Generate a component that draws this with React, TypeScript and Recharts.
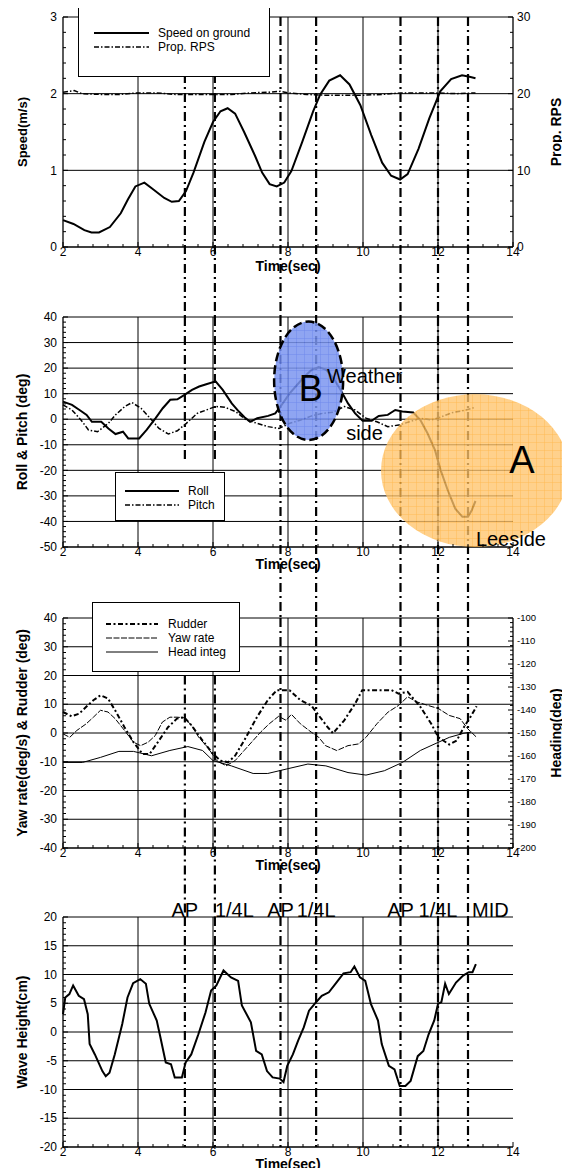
import React from 'react';
import {
  LineChart,
  Line,
  XAxis,
  YAxis,
  ReferenceLine,
  ReferenceArea,
  ReferenceDot,
  Legend,
  Label,
} from 'recharts';

/* Four stacked time histories of a ship model run in waves, tied together by
 * the dash-dot event lines (AP / 1/4L / MID) that run through every panel. */

const FONT = '"Liberation Sans", Arial, Helvetica, sans-serif';
const CHART_W = 562;
const PLOT_H = 230;
const LEFT_W = 55;
const RIGHT_W = 57;

// ---- shared time axis -------------------------------------------------------
const TIME_DOMAIN: [number, number] = [2, 14];
const TIME_LABELS = [2, 4, 6, 8, 10, 12, 14];
const TIME_GRID = [4, 6, 8, 10, 12];

// ---- event lines ------------------------------------------------------------
const MARK_T = [5.25, 6.05, 7.8, 8.75, 11.0, 12.0, 12.8];
const MARK_LABEL = ['AP', '1/4L', 'AP', '1/4L', 'AP', '1/4L', 'MID'];
// the first two are interrupted between the roll legend and the yaw panel
const MARK_BROKEN = [true, true, false, false, false, false, false];

// ---- panel 1: speed / RPS ---------------------------------------------------
const SPEED_DOMAIN: [number, number] = [0, 3];
const SPEED_LABELS = [0, 1, 2, 3];
const SPEED_GRID = [1, 2, 3];
const RPS_DOMAIN: [number, number] = [0, 30];
const RPS_LABELS = [0, 10, 20, 30];

const SPEED: [number, number][] = [
  [2.0, 0.35], [2.28, 0.3], [2.57, 0.22], [2.76, 0.19], [2.96, 0.19], [3.25, 0.26],
  [3.54, 0.44], [3.73, 0.62], [3.93, 0.79], [4.17, 0.84], [4.41, 0.75], [4.7, 0.64],
  [4.9, 0.59], [5.09, 0.6], [5.28, 0.73], [5.48, 0.97], [5.77, 1.37], [6.0, 1.63],
  [6.2, 1.77], [6.39, 1.81], [6.59, 1.74], [6.83, 1.5], [7.12, 1.19], [7.31, 0.97],
  [7.51, 0.82], [7.7, 0.79], [7.9, 0.84], [8.09, 0.99], [8.38, 1.37], [8.67, 1.77],
  [8.86, 1.99], [9.1, 2.17], [9.39, 2.24], [9.64, 2.12], [9.93, 1.85], [10.22, 1.46],
  [10.51, 1.1], [10.75, 0.93], [10.99, 0.88], [11.19, 0.95], [11.48, 1.28], [11.77, 1.68],
  [12.06, 2.03], [12.35, 2.19], [12.64, 2.24], [12.84, 2.22], [13.0, 2.2],
];

const RPS: [number, number][] = [
  [2.0, 20.2], [2.3, 20.4], [2.5, 20.0], [3.0, 19.9], [3.5, 19.9], [4.0, 20.1],
  [4.5, 20.1], [5.0, 19.9], [5.5, 19.9], [6.0, 19.9], [6.5, 19.9], [7.0, 20.1],
  [7.5, 20.2], [7.8, 20.3], [8.0, 20.1], [8.5, 19.9], [9.0, 19.8], [9.5, 19.8],
  [10.0, 19.8], [10.5, 19.9], [11.0, 20.1], [11.5, 20.1], [12.0, 20.1], [12.5, 20.0],
  [13.0, 20.1],
];

// ---- panel 2: roll / pitch --------------------------------------------------
const ROLL_DOMAIN: [number, number] = [-50, 40];
const ROLL_LABELS = [-50, -40, -30, -20, -10, 0, 10, 20, 30, 40];
const ROLL_GRID = [-40, -30, -20, -10, 0, 10, 20, 30, 40];

const ROLL: [number, number][] = [
  [2.0, 6.9], [2.24, 5.6], [2.44, 3.6], [2.63, 1.7], [2.77, -1], [3.02, -1],
  [3.21, -3.6], [3.4, -5.8], [3.6, -4.9], [3.74, -7.5], [4.03, -7.5], [4.23, -4.2],
  [4.47, 0.4], [4.66, 4.3], [4.86, 7.6], [5.05, 7.8], [5.24, 9.5], [5.44, 11.5],
  [5.63, 12.8], [5.82, 13.7], [6.07, 14.8], [6.26, 11.5], [6.5, 6.2], [6.69, 3.0],
  [6.84, 0.8], [6.99, -1], [7.18, 0.4], [7.47, 1.3], [7.66, 2.3], [7.86, 6.2],
  [8.05, 10.2], [8.24, 13.4], [8.44, 16.7], [8.63, 19.3], [8.82, 20.4], [9.02, 19.3],
  [9.21, 16.1], [9.4, 11.5], [9.6, 6.2], [9.79, 2.3], [9.99, -0.6], [10.23, -0.6],
  [10.42, 1.3], [10.66, 1.7], [10.86, 3.6], [11.05, 3.0], [11.34, 2.6], [11.53, -0.3],
  [11.72, -5.5], [11.92, -12.1], [12.07, -19.9], [12.26, -27.8], [12.46, -35],
  [12.65, -38.2], [12.8, -38.2], [12.9, -35.6], [13.0, -32],
];

const PITCH: [number, number][] = [
  [2.0, 5.6], [2.24, 3.6], [2.48, -0.3], [2.68, -4.2], [2.92, -4.9], [3.21, -1.6],
  [3.4, 1.7], [3.65, 5], [3.84, 6.5], [4.08, 4.3], [4.32, 0.4], [4.56, -3.6],
  [4.81, -5.8], [5.05, -4.5], [5.29, -1.6], [5.58, 2.3], [5.82, 3.6], [6.07, 5],
  [6.31, 4.7], [6.6, 3], [6.89, -0.3], [7.18, -1.6], [7.47, -2.9], [7.76, -3.6],
  [8.05, -1.6], [8.34, -0.3], [8.63, 1.3], [8.92, 2.3], [9.21, 2.7], [9.5, 5],
  [9.79, 3.6], [10.08, 0.4], [10.37, -1], [10.66, -2.9], [10.95, -2.3], [11.24, -1],
  [11.53, 0.4], [11.82, -0.3], [12.1, 1], [12.39, 2.6], [12.69, 3.4], [13.0, 4.7],
];

// highlighted regions: [t0, t1, v0, v1]
const ZONE_B = [7.63, 9.47, -8.1, 38.2];
const ZONE_A = [10.48, 15.49, -50, 9.8];

const NOTE_TEXT = ['B', 'Weather', 'side', 'A', 'Leeside'];
const NOTE_T = [8.61, 9.04, 9.55, 14.24, 13.01];
const NOTE_V = [12.2, 14.2, -8.3, -16, -49.5];
const NOTE_SIZE = [36, 20, 20, 38, 20];
const NOTE_ANCHOR = ['middle', 'start', 'start', 'middle', 'start'];
const NOTE_BASE = ['central', 'auto', 'auto', 'central', 'auto'];

// ---- panel 3: rudder / yaw rate / heading ----------------------------------
const YAW_DOMAIN: [number, number] = [-40, 40];
const YAW_LABELS = [-40, -30, -20, -10, 0, 10, 20, 30, 40];
const YAW_GRID = [-30, -20, -10, 0, 10, 20, 30, 40];
const HEAD_DOMAIN: [number, number] = [-200, -100];
const HEAD_LABELS = [-200, -190, -180, -170, -160, -150, -140, -130, -120, -110, -100];

const RUDDER: [number, number][] = [
  [2.0, 7.3], [2.23, 5.8], [2.43, 6.7], [2.62, 9.1], [2.81, 11.4], [3.0, 13.1],
  [3.2, 12], [3.39, 7.9], [3.64, 2], [3.88, -3.2], [4.12, -7.3], [4.31, -7.3],
  [4.56, -2.6], [4.8, 2], [5.04, 5], [5.23, 5.5], [5.43, 2.6], [5.72, -2.6],
  [6.0, -7.3], [6.2, -9.6], [6.4, -10.2], [6.59, -7.9], [6.88, -1.5], [7.17, 5.5],
  [7.46, 11.4], [7.7, 14.9], [8.04, 14.9], [8.33, 11.4], [8.62, 9.6], [8.82, 6.1],
  [9.06, 2], [9.2, -0.1], [9.5, 4.4], [9.79, 10.2], [9.98, 14.9], [10.37, 14.9],
  [10.76, 14.9], [10.95, 13.7], [11.19, 14.3], [11.53, 9.1], [11.82, 3.2], [12.01, -1.5],
  [12.3, -4], [12.5, -2.6], [12.69, 2], [12.89, 6.1], [13.03, 9.3],
];

const YAW: [number, number][] = [
  [2.0, -0.3], [2.18, -1.5], [2.37, 0.9], [2.62, 3.2], [2.81, 5.5], [3.0, 7.9],
  [3.2, 7.3], [3.39, 5], [3.64, 0.9], [3.88, -3.2], [4.07, -4.4], [4.27, -3.2],
  [4.46, -0.9], [4.65, 3.8], [4.85, 5.5], [5.04, 5.5], [5.23, 5.3], [5.43, 2.6],
  [5.62, -1.5], [5.86, -5], [6.1, -9.6], [6.35, -11.4], [6.59, -9.6], [6.83, -6.1],
  [7.07, -2.6], [7.27, 0.3], [7.5, 3.2], [7.75, 5.8], [7.95, 4.4], [8.09, 6.5],
  [8.33, 3.2], [8.62, 0.3], [8.82, -1.5], [9.0, -4.4], [9.3, -6.1], [9.6, -4.4],
  [9.88, -3.8], [10.08, -1.5], [10.37, 3.2], [10.67, 7.3], [10.95, 9.6], [11.19, 12.6],
  [11.44, 10.8], [11.73, 9.6], [12.01, 8.5], [12.3, 6.1], [12.59, 5], [12.79, 1.5],
  [13.03, -1.5],
];

const HEADING: [number, number][] = [
  [2.0, -162.8], [2.52, -162.8], [3.0, -160.6], [3.49, -158], [3.88, -158],
  [4.36, -159.9], [4.85, -157.6], [5.33, -155.9], [5.72, -157.6], [6.0, -162],
  [6.49, -164.3], [7.07, -167.6], [7.46, -167.6], [7.95, -165.7], [8.53, -163.5],
  [9.01, -164.3], [9.6, -167.2], [10.08, -168.3], [10.57, -166.4], [11.05, -162.8],
  [11.53, -157.6], [11.92, -154.7], [12.3, -151.9], [12.69, -150.1], [12.89, -149.6],
];

// ---- panel 4: wave height ---------------------------------------------------
const WAVE_DOMAIN: [number, number] = [-20, 20];
const WAVE_LABELS = [-20, -15, -10, -5, 0, 5, 10, 15, 20];
const WAVE_GRID = [-15, -10, -5, 0, 5, 10, 15, 20];

const WAVE: [number, number][] = [
  [2.0, 3.1], [2.06, 6], [2.17, 6.6], [2.27, 8.1], [2.42, 6.3], [2.56, 5.7],
  [2.66, 3.1], [2.71, -2.1], [2.85, -3.9], [3.05, -6.8], [3.14, -7.7], [3.24, -7.1],
  [3.38, -3.9], [3.58, 1.4], [3.72, 6], [3.87, 8.5], [4.06, 9.2], [4.21, 8.4],
  [4.3, 4.9], [4.5, 2], [4.59, -0.7], [4.74, -5.3], [4.88, -5.6], [4.98, -7.9],
  [5.17, -7.9], [5.27, -5.3], [5.42, -3.9], [5.61, -0.4], [5.8, 3.4], [5.95, 7.2],
  [6.09, 8.1], [6.28, 10.7], [6.48, 9.5], [6.67, 8.9], [6.77, 4.6], [7.01, 1.7],
  [7.15, -3.3], [7.3, -3.9], [7.44, -6.8], [7.59, -7.9], [7.78, -8.1], [7.88, -8.7],
  [7.98, -5.9], [8.13, -3.9], [8.27, -1.5], [8.42, 0.8], [8.56, 3.7], [8.71, 4.9],
  [8.9, 6.3], [9.09, 6.9], [9.29, 8.6], [9.48, 10.2], [9.67, 10.4], [9.77, 11.4],
  [9.92, 9.5], [10.06, 8.9], [10.21, 4.9], [10.4, 2], [10.5, -2.1], [10.69, -5.9],
  [10.84, -6.5], [10.98, -9.4], [11.13, -9.4], [11.27, -8.5], [11.46, -4.2],
  [11.61, -3.3], [11.75, -0.4], [11.9, 2], [12.0, 4.9], [12.09, 5.2], [12.19, 8.4],
  [12.29, 6.6], [12.48, 8.6], [12.67, 9.8], [12.82, 10.4], [12.92, 10.4], [13.01, 11.8],
];

// ---- helpers ----------------------------------------------------------------
const pts = (a: [number, number][]) => a.map(([t, v]) => ({ t, v }));

function steps(a: number, b: number, s: number): number[] {
  const out: number[] = [];
  for (let k = 0; a + k * s <= b + 1e-9; k++) out.push(+(a + k * s).toFixed(3));
  return out;
}

// how far (in data units) the event lines must run below a plot to reach the next one
const reach = (d: [number, number], gapPx: number) => d[0] - (gapPx * (d[1] - d[0])) / PLOT_H;

const LINE_STYLE: Record<string, { w: number; dash?: string }> = {
  'Speed on ground': { w: 2 },
  'Prop. RPS': { w: 1.5, dash: '5 2 1.5 2' },
  Roll: { w: 2 },
  Pitch: { w: 1.5, dash: '5 2 1.5 2' },
  Rudder: { w: 2, dash: '5 2.5 2 2.5' },
  'Yaw rate': { w: 1, dash: '6 1.5' },
  'Head integ': { w: 1 },
  Wave: { w: 2 },
};

const leftTick = (labels: number[], fs = 12) => (p: any) => {
  const v = p.payload.value;
  const major = labels.includes(v);
  return (
    <g>
      <line x1={p.x} x2={p.x + (major ? 5 : 3)} y1={p.y} y2={p.y} stroke="#000" />
      {major && (
        <text x={p.x - 6} y={p.y} dy="0.35em" textAnchor="end" fontSize={fs} fontFamily={FONT} fill="#000">
          {v}
        </text>
      )}
    </g>
  );
};

const rightTick = (labels: number[], fs = 12) => (p: any) => {
  const v = p.payload.value;
  const major = labels.includes(v);
  return (
    <g>
      <line x1={p.x} x2={p.x - (major ? 5 : 3)} y1={p.y} y2={p.y} stroke="#000" />
      {major && (
        <text x={p.x + 4} y={p.y} dy="0.35em" textAnchor="start" fontSize={fs} fontFamily={FONT} fill="#000">
          {v}
        </text>
      )}
    </g>
  );
};

const bottomTick = (p: any) => {
  const v = p.payload.value;
  const major = TIME_LABELS.includes(v);
  return (
    <g>
      <line x1={p.x} x2={p.x} y1={p.y} y2={p.y - (major ? 5 : 3)} stroke="#000" />
      {major && (
        <text x={p.x} y={p.y} dy="0.71em" textAnchor="middle" fontSize={12} fontFamily={FONT} fill="#000">
          {v}
        </text>
      )}
    </g>
  );
};

const yTitle = (text: string, offset: number, fs = 14) => (p: any) => {
  const vb = p.viewBox;
  const x = vb.x + offset;
  const y = vb.y + vb.height / 2;
  return (
    <text
      x={x}
      y={y}
      transform={`rotate(-90 ${x} ${y})`}
      textAnchor="middle"
      dominantBaseline="central"
      fontSize={fs}
      fontWeight="bold"
      fontFamily={FONT}
      fill="#000"
    >
      {text}
    </text>
  );
};

const xTitle = (dy: number) => (p: any) => {
  const vb = p.viewBox;
  return (
    <text
      x={vb.x + vb.width / 2}
      y={vb.y + dy}
      textAnchor="middle"
      dominantBaseline="central"
      fontSize={14}
      fontWeight="bold"
      fontFamily={FONT}
      fill="#000"
    >
      Time(sec)
    </text>
  );
};

type LegendSpec = { left: number; top: number; w: number; h: number; row0: number; gap: number; x0: number; x1: number; tx: number };

function legendContent(spec: LegendSpec, names: string[]) {
  return () => (
    <div
      style={{
        position: 'relative',
        width: spec.w,
        height: spec.h,
        border: '1.5px solid #000',
        background: '#fff',
        boxSizing: 'border-box',
        fontFamily: FONT,
        fontSize: 12,
        color: '#000',
      }}
    >
      {names.map((n, i) => (
        <React.Fragment key={n}>
          <svg
            style={{ position: 'absolute', left: spec.x0, top: spec.row0 + i * spec.gap - 3 }}
            width={spec.x1 - spec.x0}
            height={6}
          >
            <line
              x1={0}
              x2={spec.x1 - spec.x0}
              y1={3}
              y2={3}
              stroke="#000"
              strokeWidth={LINE_STYLE[n].w}
              strokeDasharray={LINE_STYLE[n].dash}
            />
          </svg>
          <span
            style={{
              position: 'absolute',
              left: spec.tx,
              top: spec.row0 + i * spec.gap - 8,
              lineHeight: '16px',
              whiteSpace: 'nowrap',
            }}
          >
            {n}
          </span>
        </React.Fragment>
      ))}
    </div>
  );
}

function chartLegend(spec: LegendSpec, names: string[]) {
  return (
    <Legend
      layout="horizontal"
      verticalAlign="middle"
      align="center"
      content={legendContent(spec, names)}
      wrapperStyle={{ left: spec.left, top: spec.top, width: spec.w, height: spec.h }}
    />
  );
}

function eventLines(top: number, bottom: number, brokenTop?: number, brokenBottom?: number) {
  return MARK_T.map((t, i) => (
    <ReferenceLine
      key={`ev${i}`}
      segment={[
        { x: t, y: MARK_BROKEN[i] && brokenTop !== undefined ? brokenTop : top },
        { x: t, y: MARK_BROKEN[i] && brokenBottom !== undefined ? brokenBottom : bottom },
      ]}
      stroke="#000"
      strokeWidth={2.2}
      strokeDasharray="9 4 2 4"
      ifOverflow="visible"
    />
  ));
}

function gridLines(values: number[]) {
  return [
    ...values.map((v) => <ReferenceLine key={`gy${v}`} y={v} stroke="#000" strokeWidth={1} />),
    ...TIME_GRID.map((t) => <ReferenceLine key={`gx${t}`} x={t} stroke="#000" strokeWidth={1} />),
  ];
}

function seriesLine(name: string, data: [number, number][], yAxisId?: string) {
  const s = LINE_STYLE[name];
  return (
    <Line
      key={name}
      name={name}
      data={pts(data)}
      dataKey="v"
      yAxisId={yAxisId ?? 0}
      type="linear"
      stroke="#000"
      strokeWidth={s.w}
      strokeDasharray={s.dash}
      dot={false}
      activeDot={false}
      isAnimationActive={false}
    />
  );
}

const ellipseShape = (id: string, base: string, lattice: string, opacity: number, border: boolean) => (p: any) => {
  const { x, y, width, height } = p;
  return (
    <g>
      <defs>
        <pattern id={id} patternUnits="userSpaceOnUse" width={8} height={8}>
          <rect width={8} height={8} fill={base} />
          <path d="M 8 0 L 0 0 0 8" fill="none" stroke={lattice} strokeWidth={0.9} />
        </pattern>
      </defs>
      <ellipse
        cx={x + width / 2}
        cy={y + height / 2}
        rx={width / 2}
        ry={height / 2}
        fill={`url(#${id})`}
        fillOpacity={opacity}
        stroke={border ? '#000' : 'none'}
        strokeWidth={2.5}
        strokeDasharray="9 4"
      />
    </g>
  );
};

const textShape = (text: string, fs: number, anchor: string, baseline: string, dx = 0) => (p: any) => (
  <text
    x={p.cx + dx}
    y={p.cy}
    fontSize={fs}
    textAnchor={anchor as any}
    dominantBaseline={baseline as any}
    fontFamily={FONT}
    fill="#000"
  >
    {text}
  </text>
);

const xAxisEl = (height: number, dy: number) => (
  <XAxis
    dataKey="t"
    type="number"
    domain={TIME_DOMAIN}
    ticks={steps(2, 14, 0.4)}
    interval={0}
    tickSize={0}
    tickMargin={0}
    tickLine={false}
    tick={bottomTick}
    axisLine={{ stroke: '#000', strokeWidth: 1.3 }}
    height={height}
  >
    <Label content={xTitle(dy)} />
  </XAxis>
);

const leftAxisEl = (domain: [number, number], labels: number[], minor: number, title: string, fs = 14) => (
  <YAxis
    type="number"
    domain={domain}
    ticks={steps(domain[0], domain[1], minor)}
    interval={0}
    tickSize={0}
    tickMargin={0}
    tickLine={false}
    tick={leftTick(labels)}
    axisLine={{ stroke: '#000', strokeWidth: 1.3 }}
    width={LEFT_W}
  >
    <Label content={yTitle(title, 14, fs)} />
  </YAxis>
);

// gaps (px) between one plot's bottom edge and the next plot's top edge
const GAP_1 = 70;
const GAP_2 = 71;
const GAP_3 = 69;

export default function App() {
  return (
    <div style={{ width: CHART_W, fontFamily: FONT }}>
      <style>{'.recharts-surface{overflow:visible}.recharts-wrapper{overflow:visible}'}</style>

      {/* speed over ground / propeller RPS */}
      <LineChart width={CHART_W} height={290} margin={{ top: 9, right: 0, bottom: 21, left: 0 }}>
        {xAxisEl(30, 19)}
        {leftAxisEl(SPEED_DOMAIN, SPEED_LABELS, 0.2, 'Speed(m/s)', 13)}
        <YAxis
          yAxisId="rps"
          orientation="right"
          type="number"
          domain={RPS_DOMAIN}
          ticks={steps(0, 30, 2)}
          interval={0}
          tickSize={0}
          tickMargin={0}
          tickLine={false}
          tick={rightTick(RPS_LABELS)}
          axisLine={{ stroke: '#000', strokeWidth: 1.3 }}
          width={RIGHT_W}
        >
          <Label content={yTitle('Prop. RPS', 43, 14)} />
        </YAxis>
        {gridLines(SPEED_GRID)}
        {eventLines(SPEED_DOMAIN[1], reach(SPEED_DOMAIN, GAP_1))}
        {seriesLine('Speed on ground', SPEED)}
        {seriesLine('Prop. RPS', RPS, 'rps')}
        {chartLegend(
          { left: 70, top: -1, w: 192, h: 70, row0: 25, gap: 14, x0: 15, x1: 70, tx: 79 },
          ['Speed on ground', 'Prop. RPS'],
        )}
      </LineChart>

      {/* roll / pitch */}
      <LineChart width={CHART_W} height={300} margin={{ top: 19, right: RIGHT_W, bottom: 21, left: 0 }}>
        {xAxisEl(30, 17)}
        {leftAxisEl(ROLL_DOMAIN, ROLL_LABELS, 2, 'Roll & Pitch (deg)')}
        {gridLines(ROLL_GRID)}
        {eventLines(ROLL_DOMAIN[1], reach(ROLL_DOMAIN, GAP_2), undefined, -17)}
        {seriesLine('Roll', ROLL)}
        {seriesLine('Pitch', PITCH)}
        <ReferenceArea
          x1={ZONE_B[0]}
          x2={ZONE_B[1]}
          y1={ZONE_B[2]}
          y2={ZONE_B[3]}
          ifOverflow="visible"
          shape={ellipseShape('patB', '#7b95f0', '#5271e6', 0.85, true)}
          zIndex={500}
        />
        <ReferenceArea
          x1={ZONE_A[0]}
          x2={ZONE_A[1]}
          y1={ZONE_A[2]}
          y2={ZONE_A[3]}
          ifOverflow="visible"
          shape={ellipseShape('patA', '#ffc46b', '#ffa41f', 0.78, false)}
          zIndex={500}
        />
        {NOTE_TEXT.map((n, i) => (
          <ReferenceDot
            key={n}
            x={NOTE_T[i]}
            y={NOTE_V[i]}
            r={0}
            ifOverflow="visible"
            shape={textShape(n, NOTE_SIZE[i], NOTE_ANCHOR[i], NOTE_BASE[i])}
          />
        ))}
        {chartLegend(
          { left: 107, top: 174, w: 110, h: 49, row0: 18, gap: 14, x0: 9, x1: 63, tx: 72 },
          ['Roll', 'Pitch'],
        )}
      </LineChart>

      {/* rudder / yaw rate / heading */}
      <LineChart width={CHART_W} height={300} margin={{ top: 20, right: 0, bottom: 20, left: 0 }}>
        {xAxisEl(30, 17)}
        {leftAxisEl(YAW_DOMAIN, YAW_LABELS, 2, 'Yaw rate(deg/s) & Rudder (deg)')}
        <YAxis
          yAxisId="head"
          orientation="right"
          type="number"
          domain={HEAD_DOMAIN}
          ticks={steps(-200, -100, 2)}
          interval={0}
          tickSize={0}
          tickMargin={0}
          tickLine={false}
          tick={rightTick(HEAD_LABELS, 9.5)}
          axisLine={{ stroke: '#000', strokeWidth: 1.3 }}
          width={RIGHT_W}
        >
          <Label content={yTitle('Heading(deg)', 43, 14)} />
        </YAxis>
        {gridLines(YAW_GRID)}
        {eventLines(YAW_DOMAIN[1], reach(YAW_DOMAIN, GAP_3), 20, undefined)}
        {seriesLine('Rudder', RUDDER)}
        {seriesLine('Yaw rate', YAW)}
        {seriesLine('Head integ', HEADING, 'head')}
        {chartLegend(
          { left: 84, top: 4, w: 148, h: 70, row0: 21, gap: 14, x0: 13, x1: 65, tx: 75 },
          ['Rudder', 'Yaw rate', 'Head integ'],
        )}
      </LineChart>

      {/* wave height at the model */}
      <LineChart width={CHART_W} height={270} margin={{ top: 19, right: RIGHT_W, bottom: 0, left: 0 }}>
        {xAxisEl(21, 17)}
        {leftAxisEl(WAVE_DOMAIN, WAVE_LABELS, 1, 'Wave Height(cm)')}
        {gridLines(WAVE_GRID)}
        {eventLines(WAVE_DOMAIN[1], WAVE_DOMAIN[0])}
        {seriesLine('Wave', WAVE)}
        {MARK_T.map((t, i) => (
          <ReferenceDot
            key={`lbl${i}`}
            x={t}
            y={WAVE_DOMAIN[1]}
            r={0}
            ifOverflow="visible"
            shape={textShape(
              MARK_LABEL[i],
              20,
              MARK_LABEL[i] === 'AP' || i === 3 || i === 5 ? 'middle' : 'start',
              'auto',
              MARK_LABEL[i] === 'MID' ? 4 : 0,
            )}
          />
        ))}
      </LineChart>
    </div>
  );
}
